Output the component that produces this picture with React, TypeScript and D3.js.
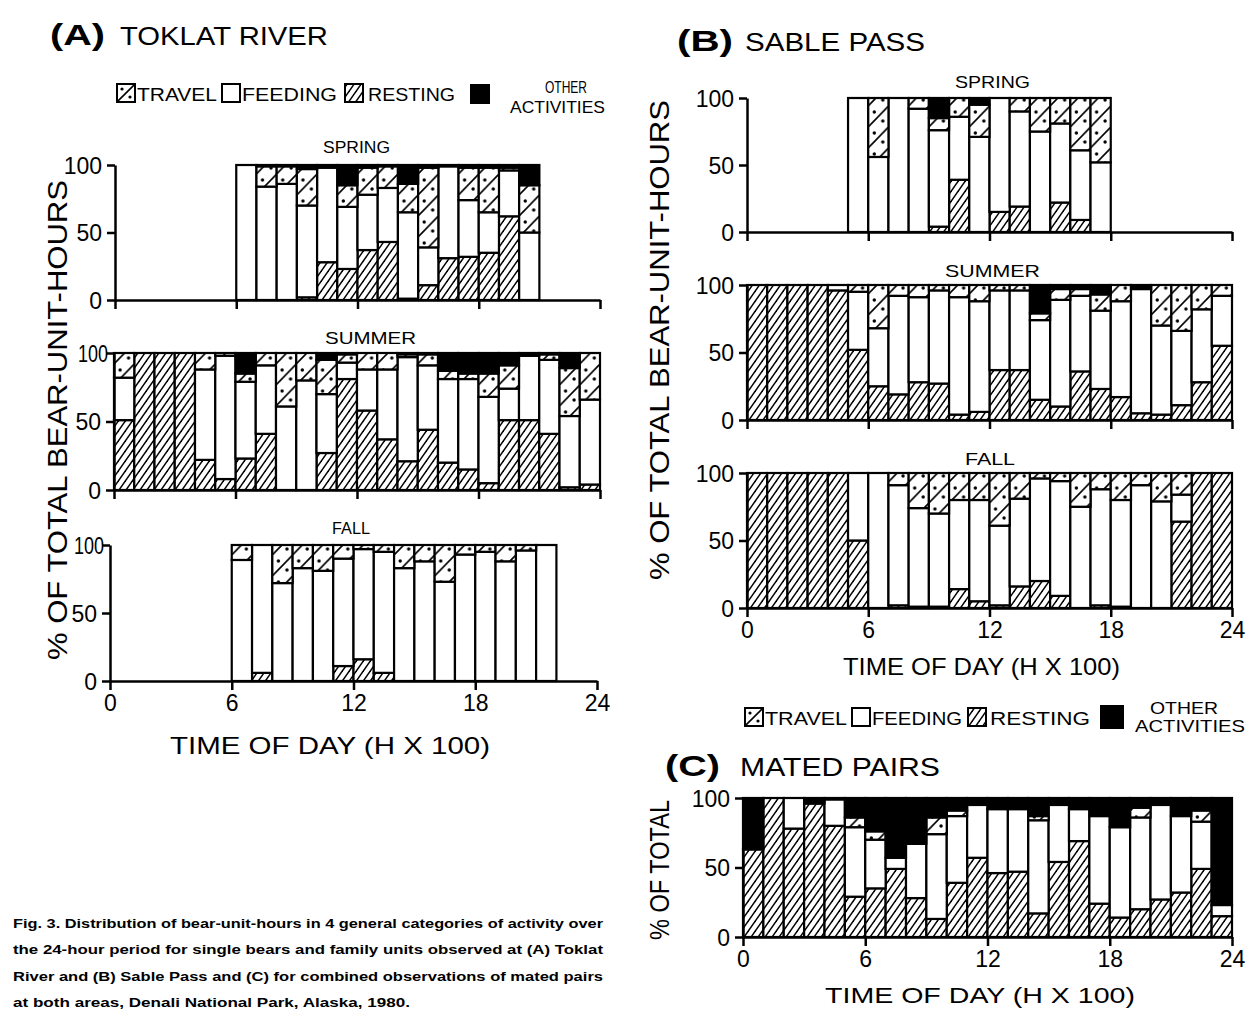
import React, { useEffect, useRef } from 'react';
import * as d3 from 'd3';

// Each row: [hour, resting, feeding, travel, other]  (percent)
type Row = [number, number, number, number, number];

const toklatSpring: Row[] = [
  [6, 0, 100, 0, 0], [7, 0, 84, 15, 1], [8, 0, 86, 13, 1], [9, 2, 68, 27, 3],
  [10, 28, 70, 0, 2], [11, 23, 46, 16, 15], [12, 37, 41, 20, 2], [13, 43, 40, 16, 1],
  [14, 1, 64, 21, 14], [15, 11, 28, 59, 2], [16, 31, 68, 0, 1], [17, 32, 42, 24, 2],
  [18, 35, 30, 33, 2], [19, 62, 34, 2, 2], [20, 0, 50, 35, 15],
];

const toklatSummer: Row[] = [
  [0, 51, 31, 18, 0], [1, 100, 0, 0, 0], [2, 100, 0, 0, 0], [3, 100, 0, 0, 0],
  [4, 22, 66, 12, 0], [5, 8, 90, 2, 0], [6, 23, 56, 6, 15], [7, 41, 50, 9, 0],
  [8, 0, 61, 39, 0], [9, 0, 80, 20, 0], [10, 27, 43, 25, 5], [11, 81, 12, 6, 1],
  [12, 58, 30, 12, 0], [13, 37, 51, 12, 0], [14, 21, 76, 2, 1], [15, 44, 47, 8, 1],
  [16, 20, 61, 6, 13], [17, 15, 66, 4, 15], [18, 5, 63, 17, 15], [19, 51, 23, 17, 9],
  [20, 51, 47, 0, 2], [21, 41, 54, 4, 1], [22, 2, 52, 35, 11], [23, 4, 62, 34, 0],
];

const toklatFall: Row[] = [
  [6, 0, 89, 11, 0], [7, 6, 94, 0, 0], [8, 0, 72, 28, 0], [9, 0, 83, 17, 0],
  [10, 0, 81, 19, 0], [11, 11, 79, 10, 0], [12, 16, 81, 3, 0], [13, 6, 89, 5, 0],
  [14, 0, 83, 17, 0], [15, 0, 88, 12, 0], [16, 0, 73, 27, 0], [17, 0, 93, 7, 0],
  [18, 0, 95, 5, 0], [19, 0, 88, 12, 0], [20, 0, 96, 4, 0], [21, 0, 100, 0, 0],
];

const sableSpring: Row[] = [
  [5, 0, 100, 0, 0], [6, 0, 56, 44, 0], [7, 0, 100, 0, 0], [8, 0, 92, 8, 0],
  [9, 4, 72, 9, 15], [10, 39, 47, 14, 0], [11, 0, 71, 24, 5], [12, 15, 85, 0, 0],
  [13, 19, 71, 10, 0], [14, 0, 75, 25, 0], [15, 22, 59, 19, 0], [16, 9, 52, 39, 0],
  [17, 0, 52, 48, 0],
];

const sableSummer: Row[] = [
  [0, 100, 0, 0, 0], [1, 100, 0, 0, 0], [2, 100, 0, 0, 0], [3, 100, 0, 0, 0],
  [4, 96, 4, 0, 0], [5, 52, 43, 5, 0], [6, 25, 43, 32, 0], [7, 19, 73, 8, 0],
  [8, 28, 63, 9, 0], [9, 27, 69, 4, 0], [10, 4, 87, 9, 0], [11, 6, 82, 12, 0],
  [12, 37, 59, 4, 0], [13, 37, 59, 4, 0], [14, 15, 59, 5, 21], [15, 10, 79, 8, 3],
  [16, 36, 56, 5, 3], [17, 23, 58, 12, 7], [18, 17, 71, 12, 0], [19, 5, 92, 0, 3],
  [20, 4, 66, 30, 0], [21, 11, 55, 34, 0], [22, 28, 54, 18, 0], [23, 55, 37, 8, 0],
];

const sableFall: Row[] = [
  [0, 100, 0, 0, 0], [1, 100, 0, 0, 0], [2, 100, 0, 0, 0], [3, 100, 0, 0, 0],
  [4, 100, 0, 0, 0], [5, 50, 50, 0, 0], [6, 0, 100, 0, 0], [7, 2, 89, 9, 0],
  [8, 1, 73, 26, 0], [9, 1, 69, 30, 0], [10, 14, 66, 20, 0], [11, 5, 75, 20, 0],
  [12, 2, 59, 39, 0], [13, 16, 65, 19, 0], [14, 20, 76, 4, 0], [15, 9, 85, 6, 0],
  [16, 0, 75, 25, 0], [17, 2, 86, 12, 0], [18, 1, 79, 20, 0], [19, 0, 91, 9, 0],
  [20, 0, 79, 21, 0], [21, 64, 20, 16, 0], [22, 100, 0, 0, 0], [23, 100, 0, 0, 0],
];

const matedPairs: Row[] = [
  [0, 63, 0, 0, 37], [1, 100, 0, 0, 0], [2, 78, 22, 0, 0], [3, 96, 0, 0, 4],
  [4, 80, 19, 0, 1], [5, 29, 50, 7, 14], [6, 35, 35, 6, 24], [7, 49, 8, 0, 43],
  [8, 28, 39, 0, 33], [9, 13, 61, 12, 14], [10, 39, 48, 4, 9], [11, 57, 38, 0, 5],
  [12, 46, 46, 0, 8], [13, 47, 45, 0, 8], [14, 17, 67, 3, 13], [15, 54, 41, 0, 5],
  [16, 69, 23, 0, 8], [17, 24, 63, 0, 13], [18, 14, 65, 0, 21], [19, 20, 66, 7, 7],
  [20, 27, 68, 0, 5], [21, 32, 55, 0, 13], [22, 49, 34, 8, 9], [23, 15, 8, 0, 77],
];

const yTicks = [0, 50, 100];
const xTicks = [0, 6, 12, 18, 24];
const legendLabels = ['TRAVEL', 'FEEDING', 'RESTING'];
const captionLines = [
  'Fig. 3. Distribution of bear-unit-hours in 4 general categories of activity over',
  'the 24-hour period for single bears and family units observed at (A) Toklat',
  'River and (B) Sable Pass and (C) for combined observations of mated pairs',
  'at both areas, Denali National Park, Alaska, 1980.',
];

const FONT = '"Liberation Sans", Arial, sans-serif';
const KEYS = [1, 2, 3, 4]; // resting, feeding, travel, other

interface PanelProps {
  id: string;
  data: Row[];
  x0: number;
  x1: number;
  yTop: number;
  yBot: number;
  xLabels?: boolean;
  narrowTop?: boolean;
  title: string;
  titleX: number;
  titleY: number;
  titleLen: number;
}

function Panel({ id, data, x0, x1, yTop, yBot, xLabels, narrowTop, title, titleX, titleY, titleLen }: PanelProps) {
  const x = d3.scaleLinear().domain([0, 24]).range([x0, x1]);
  const y = d3.scaleLinear().domain([0, 100]).range([yBot, yTop]);
  const bw = x(1) - x(0);
  const xRef = useRef<SVGGElement>(null);
  const yRef = useRef<SVGGElement>(null);

  useEffect(() => {
    const gy = d3.select(yRef.current!);
    gy.call(d3.axisLeft(y).tickValues(yTicks).tickSize(8).tickPadding(5).tickSizeOuter(0) as any);
    gy.attr('font-family', FONT).attr('font-size', 23);
    gy.selectAll('text').attr('fill', '#000').attr('dy', '0.36em');
    if (narrowTop) {
      gy.selectAll<SVGTextElement, number>('text')
        .filter((d) => d === 100)
        .attr('textLength', 30)
        .attr('lengthAdjust', 'spacingAndGlyphs')
        .attr('x', -6);
    }
    gy.selectAll('line').attr('stroke', '#000').attr('stroke-width', 2.5);
    gy.select('.domain').attr('stroke', '#000').attr('stroke-width', 2.5);

    const gx = d3.select(xRef.current!);
    gx.call(
      d3
        .axisBottom(x)
        .tickValues(xTicks)
        .tickSize(9)
        .tickPadding(5)
        .tickSizeOuter(0)
        .tickFormat((d) => (xLabels ? String(d) : '')) as any
    );
    gx.attr('font-family', FONT).attr('font-size', 23);
    gx.selectAll('text').attr('fill', '#000');
    gx.selectAll('line').attr('stroke', '#000').attr('stroke-width', 2.5);
    gx.select('.domain').attr('stroke', '#000').attr('stroke-width', 2.5);
  }, []);

  const stack = d3
    .stack<Row, number>()
    .keys(KEYS)
    .value((d, k) => d[k]);
  const series = stack(data);
  const fills: Record<number, string> = {
    1: 'url(#rest)',
    2: '#fff',
    3: `url(#travel-${id})`,
    4: '#000',
  };

  return (
    <g>
      <defs>
        <pattern id={`travel-${id}`} patternUnits="userSpaceOnUse" x={x0} y={yBot} width={bw} height={21}>
          <rect width={bw} height={21} fill="#fff" />
          <line x1={0} y1={21} x2={bw} y2={0} stroke="#000" strokeWidth={1.6} />
          <circle cx={bw * 0.3} cy={6} r={1.7} fill="#000" />
          <circle cx={bw * 0.72} cy={15} r={1.7} fill="#000" />
        </pattern>
      </defs>
      {series.map((s) => (
        <g key={s.key}>
          {s.map((seg, i) =>
            seg[1] - seg[0] > 0 ? (
              <rect
                key={i}
                x={x(seg.data[0])}
                width={bw}
                y={y(seg[1])}
                height={y(seg[0]) - y(seg[1])}
                fill={fills[s.key]}
                stroke="#000"
                strokeWidth={2.2}
              />
            ) : null
          )}
        </g>
      ))}
      <g ref={yRef} transform={`translate(${x0},0)`} />
      <g ref={xRef} transform={`translate(0,${yBot})`} />
      {title ? (
        <text x={titleX} y={titleY} fontFamily={FONT} fontSize={17} textLength={titleLen} lengthAdjust="spacingAndGlyphs">
          {title}
        </text>
      ) : null}
    </g>
  );
}

interface LegendProps {
  boxes: number[];
  texts: number[];
  textLens: number[];
  y: number;
  black: [number, number, number];
  other: [number, number, number];
  act: [number, number, number];
  fs: number;
}

function Legend({ boxes, texts, textLens, y, black, other, act, fs }: LegendProps) {
  const fillsL = ['url(#travelLegend)', '#fff', 'url(#rest)'];
  return (
    <g fontFamily={FONT}>
      {legendLabels.map((lab, i) => (
        <g key={lab}>
          <rect x={boxes[i]} y={y - 9} width={18} height={18} fill={fillsL[i]} stroke="#000" strokeWidth={2} />
          <text x={texts[i]} y={y + 8} fontSize={fs} textLength={textLens[i]} lengthAdjust="spacingAndGlyphs">
            {lab}
          </text>
        </g>
      ))}
      <rect x={black[0]} y={black[1]} width={black[2]} height={black[2]} fill="#000" />
      <text x={other[0]} y={other[1]} fontSize={fs - 2} textLength={other[2]} lengthAdjust="spacingAndGlyphs">
        OTHER
      </text>
      <text x={act[0]} y={act[1]} fontSize={fs - 2} textLength={act[2]} lengthAdjust="spacingAndGlyphs">
        ACTIVITIES
      </text>
    </g>
  );
}

export default function App() {
  return (
    <svg
      width={1255}
      height={1009}
      style={{ position: 'absolute', left: 0, top: 0, background: '#fff' }}
      fontFamily={FONT}
    >
      <defs>
        <pattern id="rest" patternUnits="userSpaceOnUse" width={7} height={10}>
          <rect width={7} height={10} fill="#fff" />
          <line x1={0} y1={10} x2={7} y2={0} stroke="#000" strokeWidth={1.5} />
          <line x1={-1} y1={1.4} x2={1} y2={-1.4} stroke="#000" strokeWidth={1.5} />
          <line x1={6} y1={11.4} x2={8} y2={8.6} stroke="#000" strokeWidth={1.5} />
        </pattern>
        <pattern id="travelLegend" patternUnits="objectBoundingBox" width={1} height={1}>
          <rect width={18} height={18} fill="#fff" />
          <line x1={0} y1={18} x2={18} y2={0} stroke="#000" strokeWidth={1.6} />
          <circle cx={5} cy={5} r={1.6} fill="#000" />
          <circle cx={13} cy={13} r={1.6} fill="#000" />
        </pattern>
      </defs>
      <rect width={1255} height={1009} fill="#fff" />

      {/* Panel A */}
      <text x={50} y={45} fontSize={30} fontWeight="bold" textLength={55} lengthAdjust="spacingAndGlyphs">(A)</text>
      <text x={120} y={45} fontSize={25} textLength={208} lengthAdjust="spacingAndGlyphs">TOKLAT RIVER</text>
      <Legend
        boxes={[117, 222, 345]}
        texts={[137, 242, 368]}
        textLens={[80, 95, 87]}
        y={93}
        black={[470, 84, 20]}
        other={[545, 93, 42]}
        act={[510, 113, 95]}
        fs={19}
      />
      <Panel id="as" data={toklatSpring} x0={115} x1={600} yTop={165} yBot={300} title="SPRING" titleX={323} titleY={153} titleLen={67} />
      <Panel id="au" data={toklatSummer} x0={114} x1={600} yTop={353} yBot={490} narrowTop title="SUMMER" titleX={325} titleY={344} titleLen={91} />
      <Panel id="af" data={toklatFall} x0={110} x1={597} yTop={545} yBot={681} narrowTop xLabels title="FALL" titleX={332} titleY={534} titleLen={38} />
      <text transform="translate(67,420) rotate(-90)" textAnchor="middle" fontSize={27} textLength={480} lengthAdjust="spacingAndGlyphs">
        % OF TOTAL BEAR-UNIT-HOURS
      </text>
      <text x={170} y={754} fontSize={24} textLength={320} lengthAdjust="spacingAndGlyphs">TIME OF DAY (H X 100)</text>

      {/* Panel B */}
      <text x={677} y={51} fontSize={30} fontWeight="bold" textLength={56} lengthAdjust="spacingAndGlyphs">(B)</text>
      <text x={745} y={51} fontSize={25} textLength={180} lengthAdjust="spacingAndGlyphs">SABLE PASS</text>
      <Panel id="bs" data={sableSpring} x0={747} x1={1232} yTop={98} yBot={232} title="SPRING" titleX={955} titleY={88} titleLen={75} />
      <Panel id="bu" data={sableSummer} x0={747} x1={1232} yTop={285} yBot={420} title="SUMMER" titleX={945} titleY={277} titleLen={95} />
      <Panel id="bf" data={sableFall} x0={747} x1={1232} yTop={473} yBot={608} xLabels title="FALL" titleX={965} titleY={465} titleLen={50} />
      <text transform="translate(669,340) rotate(-90)" textAnchor="middle" fontSize={27} textLength={480} lengthAdjust="spacingAndGlyphs">
        % OF TOTAL BEAR-UNIT-HOURS
      </text>
      <text x={843} y={675} fontSize={24} textLength={277} lengthAdjust="spacingAndGlyphs">TIME OF DAY (H X 100)</text>
      <Legend
        boxes={[745, 852, 968]}
        texts={[765, 872, 990]}
        textLens={[82, 90, 100]}
        y={717}
        black={[1100, 705, 24]}
        other={[1150, 714, 68]}
        act={[1135, 732, 110]}
        fs={19}
      />

      {/* Panel C */}
      <text x={665} y={776} fontSize={30} fontWeight="bold" textLength={55} lengthAdjust="spacingAndGlyphs">(C)</text>
      <text x={740} y={776} fontSize={25} textLength={200} lengthAdjust="spacingAndGlyphs">MATED PAIRS</text>
      <Panel id="c" data={matedPairs} x0={743} x1={1232} yTop={798} yBot={937} xLabels title="" titleX={0} titleY={0} titleLen={0} />
      <text transform="translate(669,870) rotate(-90)" textAnchor="middle" fontSize={27} textLength={140} lengthAdjust="spacingAndGlyphs">
        % OF TOTAL
      </text>
      <text x={825} y={1003} fontSize={22} textLength={310} lengthAdjust="spacingAndGlyphs">TIME OF DAY (H X 100)</text>

      {/* Caption */}
      {captionLines.map((line, i) => (
        <text
          key={i}
          x={13}
          y={928 + i * 26.3}
          fontSize={13.5}
          fontWeight="bold"
          textLength={i < 3 ? 590 : 397}
          lengthAdjust="spacingAndGlyphs"
        >
          {line}
        </text>
      ))}
    </svg>
  );
}
